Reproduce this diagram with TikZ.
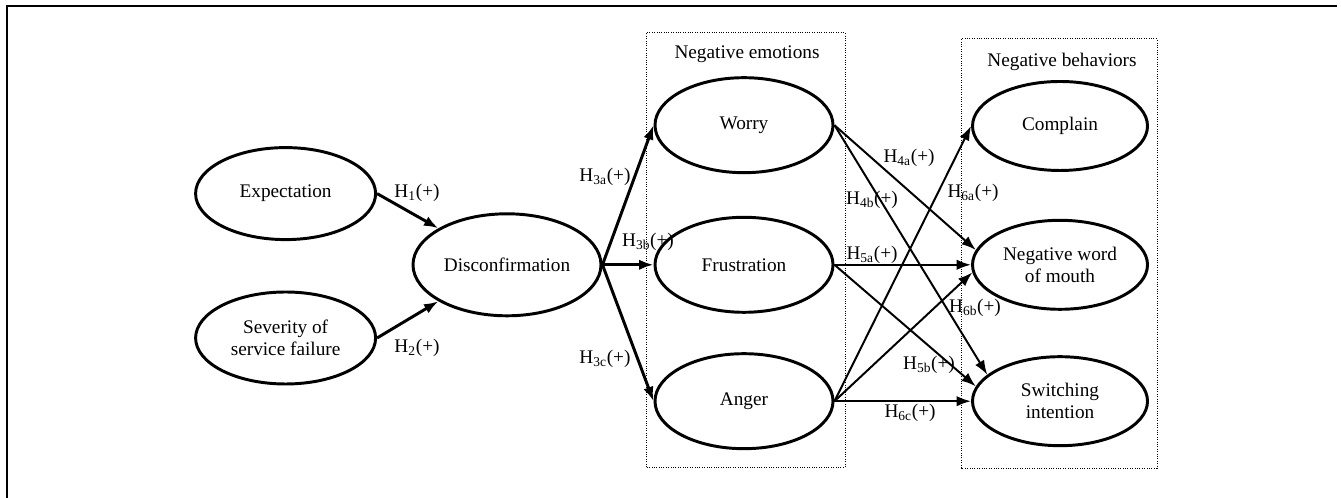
\documentclass[tikz,border=0pt]{standalone}
\usepackage{fontspec}
\setmainfont{Liberation Serif}
\usetikzlibrary{shapes.geometric,arrows.meta}
\begin{document}
\begin{tikzpicture}[x=1cm,y=1cm,
  % constructs: plain ellipses, heavy outline
  var/.style={draw, ellipse, line width=2.1pt, inner sep=0pt, align=center,
              minimum width=4.5cm, minimum height=2.3cm,
              font=\fontsize{13.7}{15.6}\selectfont},
  % groups of constructs
  grp/.style={draw, densely dotted, line width=0.7pt},
  ttl/.style={font=\fontsize{13.7}{15.6}\selectfont, inner sep=0pt},
  % paths, by stage
  main/.style={-{Latex[length=0.36cm,width=0.26cm]}, line width=2.1pt},
  path/.style={-{Latex[length=0.36cm,width=0.26cm]}, line width=1.4pt},
  hyp/.style={font=\fontsize{13.7}{15.6}\selectfont, inner sep=0pt},
  frame/.style={line width=1.6pt},
  ]
  \useasboundingbox (0,0) rectangle (33.525,12.45);
  \draw[frame] (0.175,0) |- (33.425,12.3);
  % ---- groups --------------------------------------------------------------------
  \draw[grp] (16.15,0.775) rectangle (21.125,11.625);
  \draw[grp] (24.025,0.75) rectangle (28.925,11.475);
  \node[ttl] (emo) at (18.675,11.1) {Negative emotions};
  \node[ttl] (beh) at (26.55,10.9)  {Negative behaviors};
  % ---- constructs ------------------------------------------------------------------
  \node[var] (exp) at (7.14,7.61) {Expectation};
  \node[var] (sev) at (7.14,4.0)  {Severity of\\service failure};
  \node[var, minimum width=4.7cm, minimum height=2.55cm] (dis) at (12.675,5.83) {Disconfirmation};
  \node[var, minimum width=4.45cm, minimum height=2.375cm] (worry) at (18.6,9.32) {Worry};
  \node[var, minimum width=4.45cm, minimum height=2.375cm] (frus)  at (18.6,5.83) {Frustration};
  \node[var, minimum width=4.45cm, minimum height=2.375cm] (anger) at (18.6,2.42) {Anger};
  \node[var, minimum width=4.375cm, minimum height=2.225cm] (compl) at (26.5,9.3)  {Complain};
  \node[var, minimum width=4.375cm, minimum height=2.225cm] (nwom)  at (26.5,5.83) {Negative word\\of mouth};
  \node[var, minimum width=4.375cm, minimum height=2.225cm] (swi)   at (26.5,2.42) {Switching\\intention};
  % ---- antecedents -> disconfirmation -> emotions -------------------------------------
  \draw[main] (exp.east) -- (dis.152);
  \draw[main] (sev.east) -- (dis.208);
  \draw[main] (dis.east) -- (worry.west);
  \draw[main] (dis.east) -- (frus.west);
  \draw[main] (dis.east) -- (anger.west);
  % ---- emotions -> behaviors ------------------------------------------------------------
  \draw[path] (worry.east) -- (nwom.170);
  \draw[path] (worry.east) -- (swi.160);
  \draw[path] (frus.east)  -- (nwom.west);
  \draw[path] (frus.east)  -- (swi.170);
  \draw[path] (anger.east) -- (compl.west);
  \draw[path] (anger.east) -- (nwom.185);
  \draw[path] (anger.east) -- (swi.west);
  % ---- hypothesis labels ---------------------------------------------------------------
  \node[hyp] (h1)  at (10.425,7.625) {H\textsubscript{1}(+)};
  \node[hyp] (h2)  at (10.425,3.75)  {H\textsubscript{2}(+)};
  \node[hyp] (h3a) at (15.125,8.025) {H\textsubscript{3a}(+)};
  \node[hyp] (h3b) at (16.2,6.4)     {H\textsubscript{3b}(+)};
  \node[hyp] (h3c) at (15.125,3.475) {H\textsubscript{3c}(+)};
  \node[hyp] (h4a) at (22.725,8.5)   {H\textsubscript{4a}(+)};
  \node[hyp] (h4b) at (21.8,7.45)    {H\textsubscript{4b}(+)};
  \node[hyp] (h5a) at (21.8,6.075)   {H\textsubscript{5a}(+)};
  \node[hyp] (h6a) at (24.325,7.625) {H\textsubscript{6a}(+)};
  \node[hyp] (h6b) at (24.375,4.75)  {H\textsubscript{6b}(+)};
  \node[hyp] (h5b) at (23.225,3.325) {H\textsubscript{5b}(+)};
  \node[hyp] (h6c) at (22.75,2.125)  {H\textsubscript{6c}(+)};
\end{tikzpicture}
\end{document}
